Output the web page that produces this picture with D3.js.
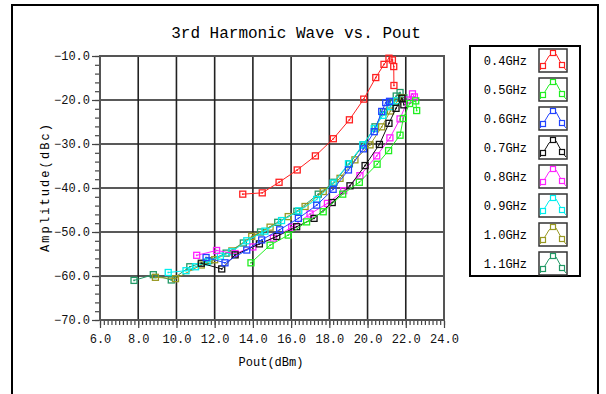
<!DOCTYPE html>
<html lang="en">
<head>
	<meta charset="UTF-8">
	<title>3rd Harmonic Wave vs. Pout</title>
	<style type="text/css">
		body{
			margin: 0;
			background: #fff;
			font-family: "Liberation Mono", monospace;
		}
		.axis text {
			font-family: "Liberation Mono", monospace;
			font-size: 12px;
			fill: #111;
		}
		.axis path { display: none; }
		.axis line { stroke: #444; stroke-width: 1.2; }
		.grid line { stroke: #222; stroke-width: 1.6; }
	</style>
	<script src="https://d3js.org/d3.v7.min.js"></script>
</head>
<body>
<script type="text/javascript">
	// Series labels and values (Pout dBm, amplitude dBc)
	var freqs = ["0.4GHz", "0.5GHz", "0.6GHz", "0.7GHz", "0.8GHz", "0.9GHz", "1.0GHz", "1.1GHz"];

	var pout04 = [13.47, 14.49, 15.37, 16.32, 17.27, 18.21, 19.05, 19.80, 20.43, 20.86, 21.12, 21.30, 21.37, 21.38];
	var amp04  = [-41.4, -41.1, -38.7, -35.9, -32.7, -28.8, -24.5, -19.8, -14.9, -11.9, -10.5, -10.9, -12.4, -16.7];

	var pout05 = [13.9, 14.9, 15.85, 16.81, 17.68, 18.7, 19.57, 20.5, 21.1, 21.7, 21.87, 22.2, 22.52, 22.57];
	var amp05  = [-57.0, -53.0, -50.7, -47.7, -45.4, -41.4, -38.7, -34.6, -31.5, -28.0, -24.2, -20.8, -20.2, -22.4];

	var pout06 = [11.55, 12.54, 13.68, 14.46, 15.4, 16.38, 17.34, 18.2, 19.0, 19.78, 20.35, 20.74, 20.95, 21.15];
	var amp06  = [-55.8, -57.0, -54.1, -51.8, -49.5, -46.9, -43.9, -40.3, -35.9, -31.1, -27.2, -22.6, -20.6, -20.3];

	var pout07 = [11.3, 12.37, 13.07, 14.34, 15.25, 16.29, 17.2, 18.15, 19.08, 19.87, 20.62, 21.12, 21.49, 21.8, 21.9];
	var amp07  = [-57.1, -58.4, -55.2, -52.7, -51.0, -48.8, -46.9, -43.3, -39.5, -34.9, -30.1, -25.3, -21.9, -19.6, -21.1];

	var pout08 = [11.06, 12.1, 13.07, 14.0, 15.07, 16.03, 16.99, 17.9, 18.75, 19.6, 20.48, 21.17, 21.7, 22.1, 22.35, 22.45];
	var amp08  = [-55.3, -54.2, -54.9, -53.4, -51.4, -48.9, -45.9, -43.5, -40.6, -37.2, -32.7, -28.6, -24.3, -20.0, -18.6, -19.3];

	var pout09 = [9.57, 10.5, 11.0, 11.6, 12.3, 12.9, 13.68, 14.63, 15.5, 16.4, 17.34, 18.2, 19.0, 19.75, 20.35, 20.8, 21.2, 21.5];
	var amp09  = [-59.2, -58.8, -57.9, -56.8, -55.5, -54.5, -52.0, -49.8, -47.4, -45.2, -42.6, -38.9, -34.5, -30.2, -26.5, -23.5, -21.5, -20.2];

	var pout10 = [8.9, 9.95, 11.3, 12.0, 12.9, 13.94, 14.9, 15.85, 16.73, 17.68, 18.56, 19.34, 20.13, 20.74, 21.2, 21.55, 21.8];
	var amp10  = [-60.3, -60.6, -57.5, -56.3, -54.3, -51.0, -48.9, -46.5, -44.2, -40.8, -37.8, -33.6, -30.2, -26.1, -22.5, -20.3, -19.5];

	var pout11 = [7.78, 8.79, 9.73, 10.7, 11.7, 12.6, 13.5, 14.4, 15.3, 16.3, 17.42, 18.24, 19.05, 19.78, 20.39, 20.83, 21.17, 21.5, 21.7, 21.9];
	var amp11  = [-61.0, -59.7, -60.9, -57.9, -56.5, -54.8, -52.5, -50.0, -47.8, -45.3, -41.4, -38.7, -34.5, -30.2, -26.1, -22.7, -20.5, -19.1, -18.3, -19.5];

	var poutSeries = [pout04, pout05, pout06, pout07, pout08, pout09, pout10, pout11];
	var ampSeries  = [amp04, amp05, amp06, amp07, amp08, amp09, amp10, amp11];

	var palette = ["#ff2020", "#22ee22", "#2244ff", "#111111", "#ff22ff", "#00eeee", "#999922", "#229966"];

	var xMajor = [6, 8, 10, 12, 14, 16, 18, 20, 22, 24];
	var yMajor = [-70, -60, -50, -40, -30, -20, -10];

	// Layout
	var fullWidth = 606, fullHeight = 394;
	var plot = {left: 100, right: 444, top: 56, bottom: 320};

	var svg = d3.select("body")
		.append("svg")
		.attr("width", fullWidth)
		.attr("height", fullHeight);

	// outer frame (bottom runs off the picture)
	svg.append("path")
		.attr("d", "M12," + fullHeight + "V5H598V" + fullHeight)
		.attr("fill", "none")
		.attr("stroke", "#000")
		.attr("stroke-width", 2);

	var xScale = d3.scaleLinear().domain([6, 24]).range([plot.left, plot.right]);
	var yScale = d3.scaleLinear().domain([-70, -10]).range([plot.bottom, plot.top]);

	// title
	svg.append("text")
		.attr("x", 296)
		.attr("y", 38)
		.attr("text-anchor", "middle")
		.style("font-size", "16px")
		.text("3rd Harmonic Wave vs. Pout");

	// gridlines
	svg.append("g")
		.attr("class", "grid")
		.selectAll("line")
		.data(xMajor.slice(1, -1))
		.enter().append("line")
		.attr("x1", function(d){ return xScale(d); })
		.attr("x2", function(d){ return xScale(d); })
		.attr("y1", plot.top)
		.attr("y2", plot.bottom);

	svg.append("g")
		.attr("class", "grid")
		.selectAll("line")
		.data(yMajor.slice(1, -1))
		.enter().append("line")
		.attr("y1", function(d){ return yScale(d); })
		.attr("y2", function(d){ return yScale(d); })
		.attr("x1", plot.left)
		.attr("x2", plot.right);

	// plot frame
	svg.append("rect")
		.attr("x", plot.left)
		.attr("y", plot.top)
		.attr("width", plot.right - plot.left)
		.attr("height", plot.bottom - plot.top)
		.attr("fill", "none")
		.attr("stroke", "#555")
		.attr("stroke-width", 2);

	// minor and major ticks
	svg.append("g")
		.attr("class", "axis")
		.attr("transform", "translate(0," + (plot.bottom + 1) + ")")
		.call(d3.axisBottom(xScale).tickValues(d3.range(6, 24.01, 0.2)).tickSize(4).tickFormat(""));

	svg.append("g")
		.attr("class", "axis")
		.attr("transform", "translate(0," + (plot.bottom + 1) + ")")
		.call(d3.axisBottom(xScale).tickValues(xMajor).tickSize(7).tickPadding(6).tickFormat(d3.format(".1f")));

	svg.append("g")
		.attr("class", "axis")
		.attr("transform", "translate(" + (plot.left - 1) + ",0)")
		.call(d3.axisLeft(yScale).tickValues(d3.range(-70, -9, 2)).tickSize(4).tickFormat(""));

	svg.append("g")
		.attr("class", "axis")
		.attr("transform", "translate(" + (plot.left - 1) + ",0)")
		.call(d3.axisLeft(yScale).tickValues(yMajor).tickSize(7).tickPadding(2).tickFormat(d3.format(".1f")));

	// axis labels
	svg.append("text")
		.attr("x", 271)
		.attr("y", 366)
		.attr("text-anchor", "middle")
		.style("font-size", "12px")
		.text("Pout(dBm)");

	svg.append("text")
		.attr("transform", "translate(49,188) rotate(-90)")
		.attr("text-anchor", "middle")
		.attr("textLength", 128)
		.attr("lengthAdjust", "spacing")
		.style("font-size", "12px")
		.text("Amplitude(dBc)");

	// series
	var line = d3.line()
		.x(function(d){ return xScale(d[0]); })
		.y(function(d){ return yScale(d[1]); });

	function drawMarker(g, px, py, color) {
		g.append("rect")
			.attr("x", px - 3).attr("y", py - 3)
			.attr("width", 6).attr("height", 6)
			.attr("fill", "none")
			.attr("stroke", color)
			.attr("stroke-width", 1.3);
		g.append("rect")
			.attr("x", px - 0.8).attr("y", py - 0.8)
			.attr("width", 1.6).attr("height", 1.6)
			.attr("fill", color);
	}

	// draw 1.1GHz first so the lower frequencies sit on top
	for (var i = freqs.length - 1; i >= 0; i--) {
		var pts = poutSeries[i].map(function(p, j){ return [p, ampSeries[i][j]]; });
		var g = svg.append("g");
		g.append("path")
			.attr("d", line(pts))
			.attr("fill", "none")
			.attr("stroke", palette[i])
			.attr("stroke-width", 1);
		pts.forEach(function(d){ drawMarker(g, xScale(d[0]), yScale(d[1]), palette[i]); });
	}

	// legend
	var legend = svg.append("g");
	legend.append("rect")
		.attr("x", 470).attr("y", 46)
		.attr("width", 110).attr("height", 230)
		.attr("fill", "#fff")
		.attr("stroke", "#000")
		.attr("stroke-width", 2);

	var sample = [[1, 21], [4, 17], [10, 7], [14, 4], [17, 5], [23, 16], [27, 21]];
	var sampleMarks = [[4, 17], [14, 4], [23, 16]];

	freqs.forEach(function(f, i){
		var cy = 61 + i * 29;
		legend.append("text")
			.attr("x", 527)
			.attr("y", cy + 4)
			.attr("text-anchor", "end")
			.style("font-size", "12px")
			.text(f);
		var bx = 539, by = cy - 12;
		legend.append("rect")
			.attr("x", bx).attr("y", by)
			.attr("width", 28).attr("height", 23)
			.attr("fill", "#fff")
			.attr("stroke", "#333")
			.attr("stroke-width", 1.5);
		legend.append("path")
			.attr("d", d3.line()(sample.map(function(p){ return [bx + p[0], by + p[1]]; })))
			.attr("fill", "none")
			.attr("stroke", palette[i])
			.attr("stroke-width", 1);
		sampleMarks.forEach(function(p){
			legend.append("rect")
				.attr("x", bx + p[0] - 2.5).attr("y", by + p[1] - 2.5)
				.attr("width", 5).attr("height", 5)
				.attr("fill", "#fff")
				.attr("stroke", palette[i])
				.attr("stroke-width", 1.2);
		});
	});
</script>
</body>
</html>
